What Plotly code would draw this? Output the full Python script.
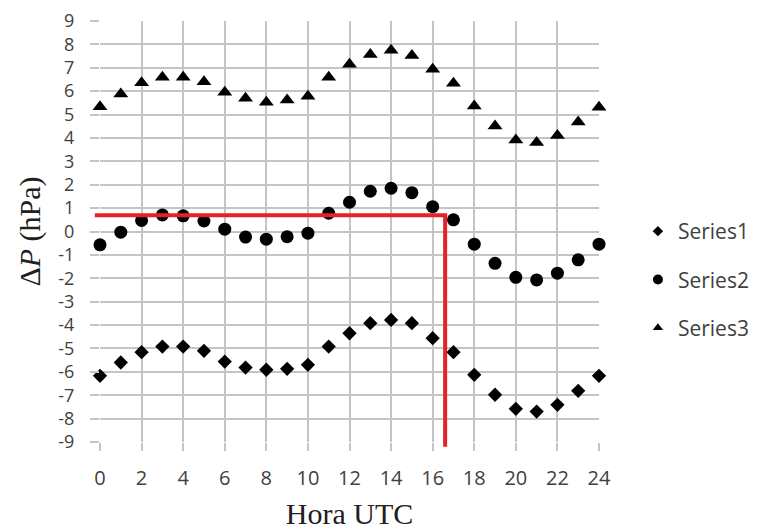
import plotly.graph_objects as go

hours = list(range(25))
series1 = [-6.17, -5.6, -5.16, -4.92, -4.92, -5.1, -5.56, -5.82, -5.91, -5.87, -5.7,
           -4.92, -4.35, -3.92, -3.78, -3.92, -4.56, -5.16, -6.13, -6.98, -7.58, -7.7,
           -7.41, -6.81, -6.17]
series2 = [-0.57, -0.03, 0.47, 0.71, 0.67, 0.45, 0.1, -0.24, -0.33, -0.22, -0.07,
           0.78, 1.25, 1.72, 1.85, 1.66, 1.06, 0.5, -0.54, -1.36, -1.96, -2.07,
           -1.78, -1.21, -0.54]
series3 = [5.33, 5.88, 6.36, 6.6, 6.6, 6.4, 5.95, 5.7, 5.53, 5.62, 5.78,
           6.6, 7.15, 7.57, 7.75, 7.52, 6.94, 6.34, 5.37, 4.51, 3.91, 3.8,
           4.1, 4.68, 5.31]
series_names = ["Series1", "Series2", "Series3"]

# red reference lines
ref_value = 0.7
ref_hour = 16.6
ref_start_hour = -0.25
ref_end_value = -9.2

x_range = [0, 24]
y_range = [-9, 9]
x_ticks = list(range(0, 25, 2))
y_ticks = list(range(-9, 10))

x_tick_font = dict(family="Open Sans, Noto Sans, sans-serif", size=20, color="#404040")
y_tick_font = dict(family="Open Sans, Noto Sans, sans-serif", size=18, color="#404040")
title_font = dict(family="Liberation Serif, Times New Roman, serif", size=30, color="#202020")

fig = go.Figure()
symbols = ["diamond", "circle", "triangle-up"]
sizes = [11, 13, 13]
legend_sizes = [8, 10, 9]
for name, ys, sym, sz, lsz in zip(series_names, [series1, series2, series3], symbols, sizes, legend_sizes):
    fig.add_trace(go.Scatter(
        x=hours, y=ys, mode="markers", name=name, legendgroup=name, showlegend=False,
        marker=dict(symbol=sym, size=sz, color="black"),
        cliponaxis=False,
    ))
    # legend-only entry with the smaller legend symbol
    fig.add_trace(go.Scatter(
        x=[None], y=[None], mode="markers", name=name, legendgroup=name, showlegend=True,
        marker=dict(symbol=sym, size=lsz, color="black"),
    ))

def fx(v):
    return (v - x_range[0]) / (x_range[1] - x_range[0])

def fy(v):
    return (v - y_range[0]) / (y_range[1] - y_range[0])

red = dict(color="#e8202a", width=4)
fig.add_shape(type="line", xref="paper", yref="paper",
              x0=fx(ref_start_hour), x1=fx(ref_hour) + 0.004, y0=fy(ref_value), y1=fy(ref_value), line=red)
fig.add_shape(type="line", xref="paper", yref="paper",
              x0=fx(ref_hour), x1=fx(ref_hour), y0=fy(ref_value), y1=fy(ref_end_value), line=red)

grid_color = "#c4c4c4"
fig.update_layout(
    width=760, height=529,
    margin=dict(l=92, r=169, t=13, b=95),
    paper_bgcolor="white", plot_bgcolor="white",
    showlegend=True,
    legend=dict(x=1.078, xanchor="left", y=0.386, yanchor="middle",
                font=dict(family="Open Sans, Noto Sans, sans-serif", size=21, color="#404040"),
                tracegroupgap=18, bgcolor="rgba(0,0,0,0)"),
    xaxis=dict(range=x_range, tickvals=x_ticks, ticktext=[str(t) for t in x_ticks],
               showgrid=True, gridcolor=grid_color, gridwidth=1.5, automargin=False,
               ticks="outside", ticklen=8, tickcolor=grid_color, tickwidth=1.5,
               zeroline=False, showline=False, tickfont=x_tick_font, ticklabelstandoff=10,
               title=dict(text="Hora UTC", font=title_font, standoff=12)),
    yaxis=dict(range=y_range, tickvals=y_ticks, ticktext=[str(t) for t in y_ticks],
               showgrid=True, gridcolor=grid_color, gridwidth=1.5, automargin=False,
               ticks="outside", ticklen=9, tickcolor=grid_color, tickwidth=1.5,
               zeroline=False, showline=False, tickfont=y_tick_font, ticklabelstandoff=12,
               title=dict(text="Δ<i>P</i> (hPa)", font=title_font, standoff=8)),
)

fig.write_html("out.html")
